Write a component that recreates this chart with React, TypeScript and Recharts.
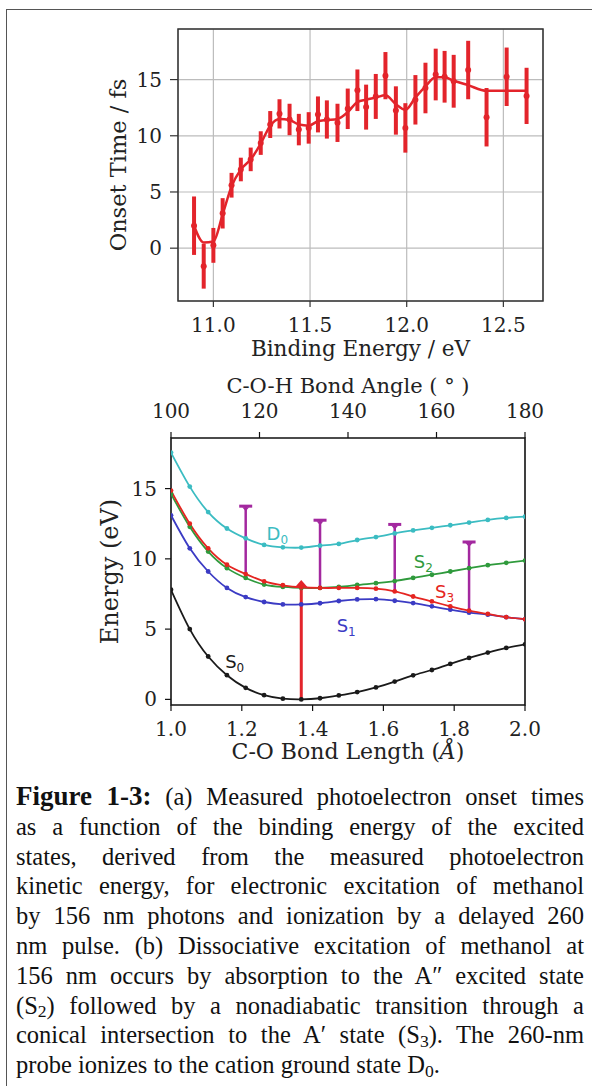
import React from 'react';
import {
  ComposedChart, Line, XAxis, YAxis, CartesianGrid, ErrorBar,
  ReferenceLine, ReferenceArea, ReferenceDot, Label,
} from 'recharts';

// (a) photoelectron onset times
const bindingEnergy = [10.90, 10.95, 11.00, 11.048, 11.094, 11.142, 11.193, 11.245, 11.294, 11.342, 11.394, 11.442, 11.493, 11.541, 11.587, 11.642, 11.695, 11.745, 11.79, 11.84, 11.89, 11.944, 11.993, 12.045, 12.097, 12.15, 12.196, 12.243, 12.318, 12.413, 12.517, 12.62];
const onsetTime = [2.0, -1.6, 0.25, 3.1, 5.6, 7.0, 7.9, 9.35, 11.0, 11.95, 11.45, 10.55, 10.7, 11.9, 11.45, 11.15, 12.4, 14.05, 12.55, 13.5, 15.35, 12.25, 10.7, 13.2, 14.25, 15.45, 15.25, 14.85, 15.85, 11.65, 15.25, 13.55];
const onsetErr = [2.6, 2.0, 1.55, 1.35, 1.1, 1.05, 1.05, 1.05, 1.2, 1.3, 1.4, 1.4, 1.4, 1.6, 1.7, 1.7, 1.8, 1.85, 2.0, 2.0, 2.1, 2.15, 2.2, 2.2, 2.25, 2.3, 2.3, 2.35, 2.6, 2.6, 2.6, 2.5];
const onsetFit = [2.0, 0.5, 0.6, 3.0, 5.5, 7.0, 7.9, 9.3, 10.9, 11.5, 11.4, 11.0, 10.9, 11.3, 11.4, 11.5, 12.1, 13.0, 13.2, 13.4, 13.6, 12.8, 12.3, 13.4, 14.4, 15.2, 15.2, 14.9, 14.5, 14.0, 14.0, 14.0];
const energyTicks = [11.0, 11.5, 12.0, 12.5];
const onsetTicks = [0, 5, 10, 15];

// (b) potential energy curves along the C-O bond / C-O-H angle scan
const bondLength = [1.0, 1.053, 1.105, 1.158, 1.211, 1.263, 1.316, 1.368, 1.421, 1.474, 1.526, 1.579, 1.632, 1.684, 1.737, 1.789, 1.842, 1.895, 1.947, 2.0];
const bondAngle = [100, 104.2, 108.4, 112.6, 116.8, 121.1, 125.3, 129.5, 133.7, 137.9, 142.1, 146.3, 150.5, 154.7, 158.9, 163.2, 167.4, 171.6, 175.8, 180];
const s0 = [7.8, 5.0, 3.05, 1.72, 0.82, 0.3, 0.05, 0.0, 0.08, 0.28, 0.52, 0.85, 1.27, 1.71, 2.09, 2.52, 2.95, 3.33, 3.66, 3.92];
const s1 = [13.1, 10.75, 9.1, 7.93, 7.28, 6.93, 6.76, 6.76, 6.84, 7.0, 7.11, 7.13, 7.02, 6.85, 6.62, 6.38, 6.17, 6.03, 5.85, 5.7];
const s2 = [14.62, 12.28, 10.52, 9.34, 8.64, 8.17, 8.0, 7.93, 7.93, 8.0, 8.14, 8.27, 8.42, 8.64, 8.87, 9.1, 9.34, 9.55, 9.72, 9.88];
const s3 = [14.86, 12.5, 10.75, 9.58, 8.92, 8.4, 8.12, 7.98, 7.93, 7.93, 7.93, 7.88, 7.68, 7.32, 6.97, 6.62, 6.31, 6.08, 5.85, 5.7];
const d0 = [17.56, 15.14, 13.33, 12.16, 11.46, 10.99, 10.82, 10.8, 10.94, 11.06, 11.34, 11.55, 11.81, 12.02, 12.21, 12.39, 12.58, 12.77, 12.91, 13.0];
const bondTicks = [1.0, 1.2, 1.4, 1.6, 1.8, 2.0];
const angleTicks = [100, 120, 140, 160, 180];
const pesTicks = [0, 5, 10, 15];

// pump (156 nm) and probe (260 nm) arrows
const pumpX = 1.368;
const pumpFrom = 0;
const pumpTo = 8.5;
const probeX = [1.211, 1.421, 1.632, 1.842];
const probeFrom = [8.92, 7.93, 7.68, 6.31];
const probeTo = [13.75, 12.75, 12.45, 11.2];

const stateNames = ['D', 'S', 'S', 'S', 'S'];
const stateSubs = ['0', '2', '3', '1', '0'];
const stateLabelX = [1.27, 1.686, 1.746, 1.468, 1.153];
const stateLabelY = [11.35, 9.34, 7.23, 4.76, 2.25];

const RED = '#e3242b';
const C_D0 = '#3bbcc2';
const C_S2 = '#2f9a3c';
const C_S3 = '#e52521';
const C_S1 = '#3b3bc4';
const C_S0 = '#1a1a1a';
const PURPLE = '#a3289f';
const stateColors = [C_D0, C_S2, C_S3, C_S1, C_S0];

const serif = 'DejaVu Serif';
const tickStyle = { fill: '#222', fontSize: 20, fontFamily: serif };

const onsetData = bindingEnergy.map((x, i) => ({ x, onset: onsetTime[i], err: onsetErr[i], fit: onsetFit[i] }));
const pesData = bondLength.map((r, i) => ({ r, angle: bondAngle[i], s0: s0[i], s1: s1[i], s2: s2[i], s3: s3[i], d0: d0[i] }));

const PumpArrow = (p: any) => {
  const { x1, y1, y2 } = p;
  return (
    <g>
      <line x1={x1} y1={y1} x2={x1} y2={y2 + 7} stroke={RED} strokeWidth={3} />
      <polygon points={`${x1},${y2} ${x1 - 7},${y2 + 8} ${x1 + 7},${y2 + 8}`} fill={RED} />
    </g>
  );
};

const ProbeArrow = (p: any) => {
  const { x1, y1, y2 } = p;
  return (
    <g>
      <line x1={x1} y1={y1} x2={x1} y2={y2} stroke={PURPLE} strokeWidth={2.5} />
      <rect x={x1 - 6.5} y={y2 - 1.5} width={13} height={3} fill={PURPLE} />
      <polygon points={`${x1 - 3.5},${y2 + 1} ${x1 + 3.5},${y2 + 1} ${x1},${y2 + 5}`} fill={PURPLE} />
    </g>
  );
};

const BondLengthTitle = (props: any) => {
  const { x, y, width, height } = props.viewBox;
  return (
    <text x={x + width / 2} y={y + height - 6} textAnchor="middle" fill="#222" fontSize={22} fontFamily={serif}>
      C-O Bond Length (<tspan fontStyle="italic">Å</tspan>)
    </text>
  );
};

const sub = (t: string) => (
  <span style={{ fontSize: '0.72em', position: 'relative', top: '0.22em', lineHeight: 0 }}>{t}</span>
);

const captionLines: React.ReactNode[] = [
  <><b style={{ fontSize: 27 }}>Figure 1-3:</b> (a) Measured photoelectron onset times</>,
  <>as a function of the binding energy of the excited</>,
  <>states, derived from the measured photoelectron</>,
  <>kinetic energy, for electronic excitation of methanol</>,
  <>by 156 nm photons and ionization by a delayed 260</>,
  <>nm pulse. (b) Dissociative excitation of methanol at</>,
  <>156 nm occurs by absorption to the A″ excited state</>,
  <>(S{sub('2')}) followed by a nonadiabatic transition through a</>,
  <>conical intersection to the A′ state (S{sub('3')}). The 260-nm</>,
  <>probe ionizes to the cation ground state D{sub('0')}.</>,
];

export default function App() {
  return (
    <div style={{ position: 'absolute', left: 0, top: 0, width: 592, height: 1086, background: '#fff', overflow: 'hidden' }}>
      <div style={{ position: 'absolute', left: 6, top: 9, width: 600, height: 1100, borderLeft: '1.5px solid #555', borderTop: '1.5px solid #555' }} />

      <div style={{ position: 'absolute', left: 0, top: 0 }}>
        <ComposedChart width={592} height={370} data={onsetData} margin={{ top: 29, right: 49, bottom: 8, left: 100 }}>
          <CartesianGrid stroke="#bcbcbc" strokeWidth={1.2} />
          <XAxis dataKey="x" type="number" domain={[10.817, 12.705]} allowDataOverflow ticks={energyTicks}
            tickFormatter={(v: number) => v.toFixed(1)} height={61} tickSize={6} tickMargin={11}
            axisLine={false} tickLine={{ stroke: '#333', strokeWidth: 1.2 }} tick={tickStyle}>
            <Label value="Binding Energy / eV" position="insideBottom" offset={6} fill="#222" fontSize={21.5} fontFamily={serif} />
          </XAxis>
          <YAxis type="number" domain={[-4.7, 19.5]} allowDataOverflow ticks={onsetTicks} width={78}
            tickSize={8} tickMargin={8} axisLine={false} tickLine={{ stroke: '#333', strokeWidth: 1.2 }} tick={tickStyle}>
            <Label value="Onset Time / fs" angle={-90} position="insideLeft" offset={18}
              style={{ textAnchor: 'middle' }} fill="#222" fontSize={22.5} fontFamily={serif} />
          </YAxis>
          <ReferenceArea x1={10.817} x2={12.705} y1={-4.7} y2={19.5} fill="none" stroke="#333" strokeWidth={1.5} />
          <Line dataKey="fit" type="monotone" stroke={RED} strokeWidth={2.5} dot={false} isAnimationActive={false} />
          <Line dataKey="onset" stroke="none" dot={{ r: 3, fill: RED, stroke: 'none' }} activeDot={false} isAnimationActive={false}>
            <ErrorBar dataKey="err" width={0} stroke={RED} strokeWidth={4} />
          </Line>
        </ComposedChart>
      </div>

      <div style={{ position: 'absolute', left: 0, top: 360 }}>
        <ComposedChart width={592} height={410} data={pesData} margin={{ top: 5, right: 67, bottom: 5, left: 93 }}>
          <XAxis dataKey="r" type="number" domain={[1, 2]} allowDataOverflow ticks={bondTicks}
            tickFormatter={(v: number) => v.toFixed(1)} height={60} tickSize={6} tickMargin={11}
            axisLine={false} tickLine={{ stroke: '#111', strokeWidth: 1.2 }} tick={tickStyle}>
            <Label content={BondLengthTitle} />
          </XAxis>
          <XAxis xAxisId="angle" dataKey="angle" orientation="top" type="number" domain={[100, 180]} allowDataOverflow ticks={angleTicks}
            height={73} tickSize={6} tickMargin={14}
            axisLine={false} tickLine={{ stroke: '#111', strokeWidth: 1.2 }} tick={tickStyle}>
            <Label value="C-O-H Bond Angle ( ° )" position="insideTop" offset={13} fill="#222" fontSize={21} fontFamily={serif} />
          </XAxis>
          <YAxis type="number" domain={[-0.4, 18.6]} allowDataOverflow ticks={pesTicks} width={78}
            tickSize={6} tickMargin={8} axisLine={false} tickLine={{ stroke: '#111', strokeWidth: 1.2 }} tick={tickStyle}>
            <Label value="Energy (eV)" angle={-90} position="insideLeft" offset={16}
              style={{ textAnchor: 'middle' }} fill="#222" fontSize={24} fontFamily={serif} />
          </YAxis>
          <ReferenceArea x1={1} x2={2} y1={-0.4} y2={18.6} fill="none" stroke="#111" strokeWidth={1.6} />
          {/* keeps the angle axis bound to the scan coordinates; not drawn */}
          <Line xAxisId="angle" dataKey="s0" stroke="none" dot={false} activeDot={false} legendType="none" isAnimationActive={false} />
          <Line dataKey="s0" type="natural" stroke={C_S0} strokeWidth={1.8} dot={{ r: 2.4, fill: C_S0, strokeWidth: 0 }} activeDot={false} isAnimationActive={false} />
          <Line dataKey="d0" type="natural" stroke={C_D0} strokeWidth={1.8} dot={{ r: 2.4, fill: C_D0, strokeWidth: 0 }} activeDot={false} isAnimationActive={false} />
          <Line dataKey="s1" type="natural" stroke={C_S1} strokeWidth={1.8} dot={{ r: 2.4, fill: C_S1, strokeWidth: 0 }} activeDot={false} isAnimationActive={false} />
          <Line dataKey="s2" type="natural" stroke={C_S2} strokeWidth={1.8} dot={{ r: 2.4, fill: C_S2, strokeWidth: 0 }} activeDot={false} isAnimationActive={false} />
          <Line dataKey="s3" type="natural" stroke={C_S3} strokeWidth={1.8} dot={{ r: 2.4, fill: C_S3, strokeWidth: 0 }} activeDot={false} isAnimationActive={false} />
          <ReferenceLine segment={[{ x: pumpX, y: pumpFrom }, { x: pumpX, y: pumpTo }]} shape={PumpArrow} />
          {probeX.map((x, i) => (
            <ReferenceLine key={`probe${i}`} segment={[{ x, y: probeFrom[i] }, { x, y: probeTo[i] }]} shape={ProbeArrow} />
          ))}
          {stateNames.map((n, i) => (
            <ReferenceDot key={`lab${i}`} x={stateLabelX[i]} y={stateLabelY[i]} r={0}
              shape={(p: any) => (
                <text x={p.cx} y={p.cy} fill={stateColors[i]} fontSize={18} fontFamily="DejaVu Sans">
                  {n}<tspan dy={4} fontSize={12}>{stateSubs[i]}</tspan>
                </text>
              )} />
          ))}
        </ComposedChart>
      </div>

      <div style={{ position: 'absolute', left: 16, top: 782, width: 568, fontFamily: '"Liberation Serif", serif', fontSize: 24.5, lineHeight: '29.8px', color: '#111' }}>
        {captionLines.map((ln, i) => (
          <div key={i} style={{ height: 29.8, textAlign: 'justify', textAlignLast: i === captionLines.length - 1 ? 'left' : 'justify', whiteSpace: 'nowrap' }}>
            {ln}
          </div>
        ))}
      </div>
    </div>
  );
}
